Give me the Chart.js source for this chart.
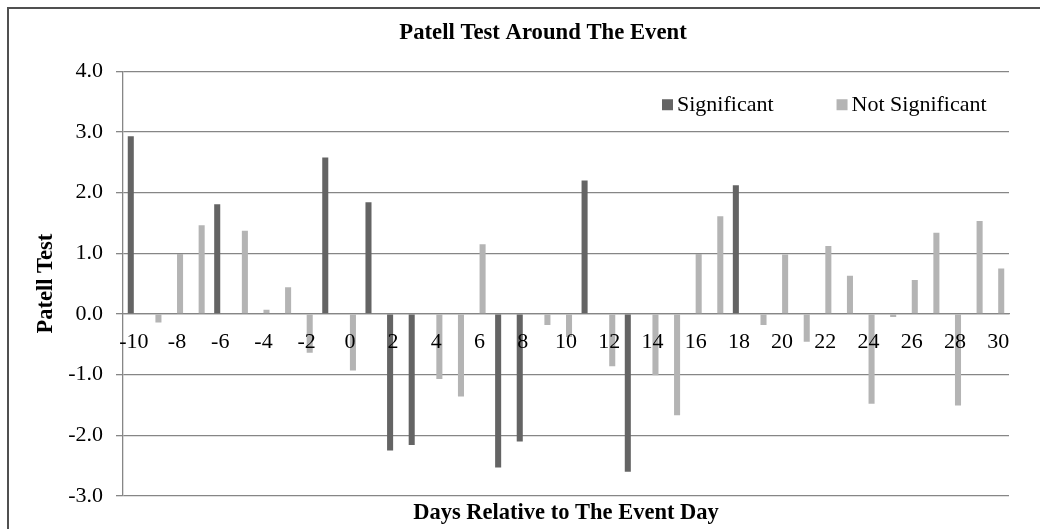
<!DOCTYPE html>
<html>
<head>
<meta charset="utf-8">
<script src="https://cdn.jsdelivr.net/npm/chart.js@4.4.1/dist/chart.umd.min.js"></script>
<style>
  html, body { margin: 0; padding: 0; background: #fff; overflow: hidden; }
  #frame { position: absolute; left: 7px; top: 7px; width: 1200px; height: 700px; border: 2px solid #505050; }
  #patell { position: absolute; left: 0; top: 0; }
</style>
</head>
<body>
<div id="frame"></div>
<canvas id="patell" width="1086" height="529"></canvas>
<script>
var days = ['-10', '-9', '-8', '-7', '-6', '-5', '-4', '-3', '-2', '-1', '0',
    '1', '2', '3', '4', '5', '6', '7', '8', '9', '10',
    '11', '12', '13', '14', '15', '16', '17', '18', '19', '20',
    '21', '22', '23', '24', '25', '26', '27', '28', '29', '30'];

var significant = [2.93, null, null, null, 1.81, null, null, null, null, 2.58, null,
    1.84, -2.25, -2.16, null, null, null, -2.53, -2.10, null, null,
    2.20, null, -2.60, null, null, null, null, 2.12, null, null,
    null, null, null, null, null, null, null, null, null, null];

var notSignificant = [null, -0.14, 0.99, 1.46, null, 1.37, 0.07, 0.44, -0.64, null, -0.93,
    null, null, null, -1.07, -1.36, 1.15, null, null, -0.18, -0.38,
    null, -0.86, null, -1.01, -1.67, 0.99, 1.61, null, -0.18, 0.98,
    -0.46, 1.12, 0.63, -1.48, -0.05, 0.56, 1.34, -1.51, 1.53, 0.75];

var yTicks = [-3, -2, -1, 0, 1, 2, 3, 4];

var gridGray = '#868686';
var serif = '"Liberation Serif", "Times New Roman", serif';

// legend sits inside the plot, top right, like the excel original
var innerLegend = {
    id: 'innerLegend',
    afterDraw: function (chart) {
        var ctx = chart.ctx;
        var area = chart.chartArea;
        var x = area.right - 347;
        var base = area.top + 40;
        ctx.save();
        ctx.font = '22px ' + serif;
        ctx.textBaseline = 'alphabetic';
        chart.data.datasets.forEach(function (ds) {
            ctx.fillStyle = ds.backgroundColor;
            ctx.fillRect(x, base - 12, 11, 11);
            ctx.fillStyle = '#000';
            ctx.fillText(ds.label, x + 15, base);
            x += 15 + ctx.measureText(ds.label).width + 63;
        });
        ctx.restore();
    }
};

var chart = new Chart(document.getElementById('patell'), {
    type: 'bar',
    data: {
        labels: days,
        datasets: [
            { label: 'Significant', data: significant, backgroundColor: '#646464' },
            { label: 'Not Significant', data: notSignificant, backgroundColor: '#b4b4b4' }
        ]
    },
    options: {
        responsive: false,
        animation: false,
        layout: { padding: { left: 10, top: 10, right: 10, bottom: 0 } },
        datasets: {
            bar: { categoryPercentage: 0.56, barPercentage: 1.0 }
        },
        scales: {
            x: {
                position: { y: 0 },
                grid: { display: false, drawTicks: false },
                border: { display: true, color: gridGray, width: 1.3 },
                ticks: {
                    z: 1,
                    autoSkip: false,
                    maxRotation: 0,
                    padding: 15,
                    color: '#000',
                    font: { family: serif, size: 22 },
                    callback: function (value, index) {
                        return index % 2 === 0 ? this.getLabelForValue(value) : '';
                    }
                }
            },
            x2: {
                type: 'category',
                position: 'bottom',
                labels: days,
                grid: { display: false, drawTicks: false },
                border: { display: false },
                ticks: { display: false },
                title: {
                    display: true,
                    text: 'Days Relative to The Event Day',
                    color: '#000',
                    font: { family: serif, size: 22.5, weight: 'bold' },
                    padding: { top: 4, bottom: 2 }
                }
            },
            y: {
                min: yTicks[0],
                max: yTicks[yTicks.length - 1],
                afterFit: function (scale) { scale.width = 113; },
                ticks: {
                    stepSize: 1,
                    padding: 13,
                    color: '#000',
                    font: { family: serif, size: 22 },
                    callback: function (v) { return v.toFixed(1); }
                },
                grid: { color: gridGray, lineWidth: 1.3, tickLength: 7 },
                border: { color: gridGray, width: 1.3 },
                title: {
                    display: true,
                    text: 'Patell Test',
                    color: '#000',
                    font: { family: serif, size: 22.5, weight: 'bold' },
                    padding: { top: 22.5, bottom: 0 }
                }
            },
            // empty right-hand space, so the title centres on the whole frame
            yRight: {
                position: 'right',
                grid: { display: false, drawTicks: false },
                border: { display: false },
                ticks: { display: false },
                afterFit: function (scale) { scale.width = 67; }
            }
        },
        plugins: {
            legend: { display: false },
            tooltip: { enabled: false },
            title: {
                display: true,
                text: 'Patell Test Around The Event',
                color: '#000',
                font: { family: serif, size: 22.7, weight: 'bold' },
                padding: { top: 10, bottom: 24 }
            }
        }
    },
    plugins: [innerLegend]
});
</script>
</body>
</html>
